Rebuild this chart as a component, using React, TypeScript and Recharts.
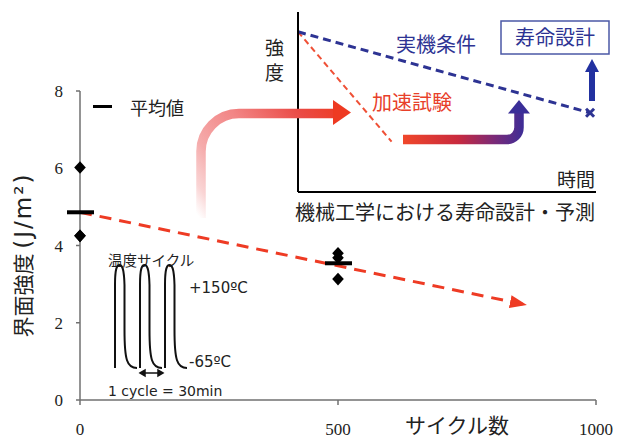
import React from 'react';
import { ComposedChart, LineChart, Line, Scatter, XAxis, YAxis } from 'recharts';

// ---- main chart data ----
const xTicks = [0, 500, 1000];
const yTicks = [0, 2, 4, 6, 8];
const sampleCycles = [0, 0, 0, 500, 500, 500];
const sampleStrengths = [6.02, 4.25, 4.25, 3.8, 3.68, 3.13];
const meanCycles = [0, 500];
const meanStrengths = [4.86, 3.54];
const trendCycles = [0, 866];
const trendStrengths = [4.86, 2.46];

// ---- inset (schematic) data ----
const fieldTimes = [0, 0.98];
const fieldStrengths = [0.89, 0.44];
const accelTimes = [0, 0.314];
const accelStrengths = [0.89, 0.28];

const samples = sampleCycles.map((x, i) => ({ x, y: sampleStrengths[i] }));
const means = meanCycles.map((x, i) => ({ x, y: meanStrengths[i] }));
const trend = trendCycles.map((x, i) => ({ x, y: trendStrengths[i] }));
const field = fieldTimes.map((t, i) => ({ t, v: fieldStrengths[i] }));
const accel = accelTimes.map((t, i) => ({ t, v: accelStrengths[i] }));

const JP = "'Noto Sans CJK JP', sans-serif";
const LAT = "'DejaVu Sans', 'Noto Sans CJK JP', sans-serif";
const SERIF = "'Liberation Serif', 'Times New Roman', serif";
const BLUE = '#2d3393';
const RED = '#ee3b24';
const AXIS = '#707070';

const Diamond = (p: any) => (
  <polygon
    points={`${p.cx},${p.cy - 6.3} ${p.cx + 5.8},${p.cy} ${p.cx},${p.cy + 6.3} ${p.cx - 5.8},${p.cy}`}
    fill="#000"
  />
);
const MeanBar = (p: any) => <rect x={p.cx - 13} y={p.cy - 2} width={27} height={4} fill="#000" />;

const CrossDot = (p: any) => {
  if (p.index !== 1) return <g key={`d${p.index}`} />;
  return (
    <g key={`d${p.index}`} stroke={BLUE} strokeWidth={3}>
      <line x1={p.cx - 4} y1={p.cy - 4} x2={p.cx + 4} y2={p.cy + 4} />
      <line x1={p.cx - 4} y1={p.cy + 4} x2={p.cx + 4} y2={p.cy - 4} />
    </g>
  );
};

const XTick = (p: any) => (
  <text x={p.x} y={p.y} dy={12} textAnchor="middle" fontFamily={SERIF} fontSize={17} fill="#222">
    {p.payload.value}
  </text>
);
const YTick = (p: any) => (
  <text x={p.x} y={p.y} dy={6} textAnchor="end" fontFamily={SERIF} fontSize={17} fill="#222">
    {p.payload.value}
  </text>
);

const pulse = (x0: number) =>
  `M${x0},368 L${x0},285 C${x0},268 ${x0 + 2},265 ${x0 + 4.5},265 C${x0 + 7},265 ${x0 + 9},268 ${x0 + 9.5},285 L${x0 + 9.5},330 C${x0 + 9.5},360 ${x0 + 12},368 ${x0 + 22},368`;

export default function App() {
  return (
    <div style={{ position: 'absolute', left: 0, top: 0, width: 619, height: 438, background: '#fff' }}>
      <div style={{ position: 'absolute', left: 0, top: 0 }}>
        <ComposedChart width={619} height={438} margin={{ top: 91, right: 23, bottom: 0, left: 0 }}>
          <defs>
            <marker id="redArrow" markerUnits="userSpaceOnUse" markerWidth="18" markerHeight="14" refX="17" refY="6.5" orient="auto">
              <path d="M0,0 L17,6.5 L0,13 z" fill={RED} />
            </marker>
          </defs>
          <XAxis
            type="number"
            dataKey="x"
            domain={[0, 1000]}
            ticks={xTicks}
            height={38}
            tickSize={5}
            tickMargin={18}
            stroke={AXIS}
            axisLine={{ stroke: AXIS, strokeWidth: 1.5 }}
            tickLine={{ stroke: AXIS, strokeWidth: 1.5 }}
            tick={XTick}
          />
          <YAxis
            type="number"
            dataKey="y"
            domain={[0, 8]}
            ticks={yTicks}
            width={80}
            tickSize={4}
            tickMargin={13}
            stroke={AXIS}
            axisLine={{ stroke: AXIS, strokeWidth: 1.5 }}
            tickLine={{ stroke: AXIS, strokeWidth: 1.5 }}
            tick={YTick}
          />
          <Line
            data={trend}
            dataKey="y"
            stroke={RED}
            strokeWidth={3}
            strokeDasharray="12 8"
            dot={false}
            markerEnd="url(#redArrow)"
            isAnimationActive={false}
          />
          <Scatter data={samples} dataKey="y" shape={Diamond} isAnimationActive={false} />
          <Scatter data={means} dataKey="y" shape={MeanBar} isAnimationActive={false} />
        </ComposedChart>
      </div>

      <div style={{ position: 'absolute', left: 290, top: 0 }}>
        <LineChart width={320} height={200} margin={{ top: 12, right: 14, bottom: 0, left: 0 }}>
          <XAxis
            type="number"
            dataKey="t"
            domain={[0, 1]}
            height={8}
            tick={false}
            tickLine={false}
            axisLine={{ stroke: '#000', strokeWidth: 2 }}
          />
          <YAxis
            type="number"
            dataKey="v"
            domain={[0, 1]}
            width={8}
            tick={false}
            tickLine={false}
            axisLine={{ stroke: '#000', strokeWidth: 2 }}
          />
          <Line data={accel} dataKey="v" stroke="#ef5036" strokeWidth={2} strokeDasharray="6 4" dot={false} isAnimationActive={false} />
          <Line data={field} dataKey="v" stroke={BLUE} strokeWidth={3} strokeDasharray="8 5" dot={CrossDot} isAnimationActive={false} />
        </LineChart>
      </div>

      <svg width={619} height={438} style={{ position: 'absolute', left: 0, top: 0, pointerEvents: 'none' }}>
        <defs>
          <linearGradient id="pinkGrad" gradientUnits="userSpaceOnUse" x1="201" y1="220" x2="345" y2="113">
            <stop offset="0" stopColor="#f7c0c0" stopOpacity="0" />
            <stop offset="0.1" stopColor="#f6b8b8" stopOpacity="0.6" />
            <stop offset="0.25" stopColor="#f5abab" />
            <stop offset="0.5" stopColor="#f28585" />
            <stop offset="0.8" stopColor="#ea4a45" />
            <stop offset="1" stopColor="#ee3a22" />
          </linearGradient>
          <linearGradient id="purpGrad" gradientUnits="userSpaceOnUse" x1="403" y1="0" x2="525" y2="0">
            <stop offset="0" stopColor="#f0472a" />
            <stop offset="0.45" stopColor="#c92a3e" />
            <stop offset="0.75" stopColor="#7a2a78" />
            <stop offset="1" stopColor="#3b2d98" />
          </linearGradient>
        </defs>

        {/* y-axis title */}
        <text transform="translate(31,255) rotate(-90)" textAnchor="middle" fontFamily={JP} fontSize={21} fill="#222">
          界面強度 <tspan fontFamily={LAT} fontSize={23} letterSpacing={2}>(J/m²)</tspan>
        </text>
        {/* x-axis title */}
        <text x={457} y={433} textAnchor="middle" fontFamily={JP} fontSize={21} fill="#222">サイクル数</text>

        {/* legend */}
        <rect x={93} y={105} width={19} height={3} fill="#000" />
        <text x={130} y={115} fontFamily={JP} fontSize={18} fill="#222">平均値</text>

        {/* temperature cycle illustration */}
        <text x={108} y={266} fontFamily={JP} fontSize={14.5} fill="#222">温度サイクル</text>
        <g fill="none" stroke="#111" strokeWidth={2}>
          <path d={pulse(115)} />
          <path d={pulse(140)} />
          <path d={pulse(165)} />
        </g>
        <g stroke="#111" strokeWidth={1.5} fill="#111">
          <line x1={143} y1={373} x2={160} y2={373} />
          <polygon points="140,373 145,370 145,376" />
          <polygon points="163,373 158,370 158,376" />
        </g>
        <text x={189} y={293} fontFamily={LAT} fontSize={15} fill="#222">+150ºC</text>
        <text x={189} y={367} fontFamily={LAT} fontSize={15} fill="#222">-65ºC</text>
        <text x={108} y={396} fontFamily={LAT} fontSize={14} fill="#222">1 cycle = 30min</text>

        {/* pink curved arrow */}
        <path d="M201,218 V152 A38,38 0 0 1 239,113.5 H334" fill="none" stroke="url(#pinkGrad)" strokeWidth={9.5} />
        <polygon points="333,100 351,112.5 333,125" fill="#ee3a22" />

        {/* inset labels */}
        <text x={265} y={55} fontFamily={JP} fontSize={19} fill="#222">強</text>
        <text x={265} y={80} fontFamily={JP} fontSize={19} fill="#222">度</text>
        <text x={595} y={187} textAnchor="end" fontFamily={JP} fontSize={19} fill="#222">時間</text>
        <text x={445} y={220} textAnchor="middle" fontFamily={JP} fontSize={20} fill="#222">機械工学における寿命設計・予測</text>
        <text x={436} y={52} textAnchor="middle" fontFamily={JP} fontSize={20} fill={BLUE}>実機条件</text>
        <text x={412} y={110} textAnchor="middle" fontFamily={JP} fontSize={20} fill="#e8402a">加速試験</text>

        {/* gradient bent arrow */}
        <path d="M403,139.5 H507 A12,12 0 0 0 519,127.5 V113" fill="none" stroke="url(#purpGrad)" strokeWidth={9.5} />
        <polygon points="508,113.5 530,113.5 519,100" fill="#3a2e98" />

        {/* life design box + arrow */}
        <rect x={501} y={21} width={108} height={33} fill="#fff" stroke="#4b58a6" strokeWidth={1.5} />
        <text x={555} y={45} textAnchor="middle" fontFamily={JP} fontSize={20} fill={BLUE}>寿命設計</text>
        <rect x={589} y={71} width={6} height={30} fill="#2231a0" />
        <polygon points="585,72 599,72 592,59" fill="#2231a0" />
      </svg>
    </div>
  );
}
